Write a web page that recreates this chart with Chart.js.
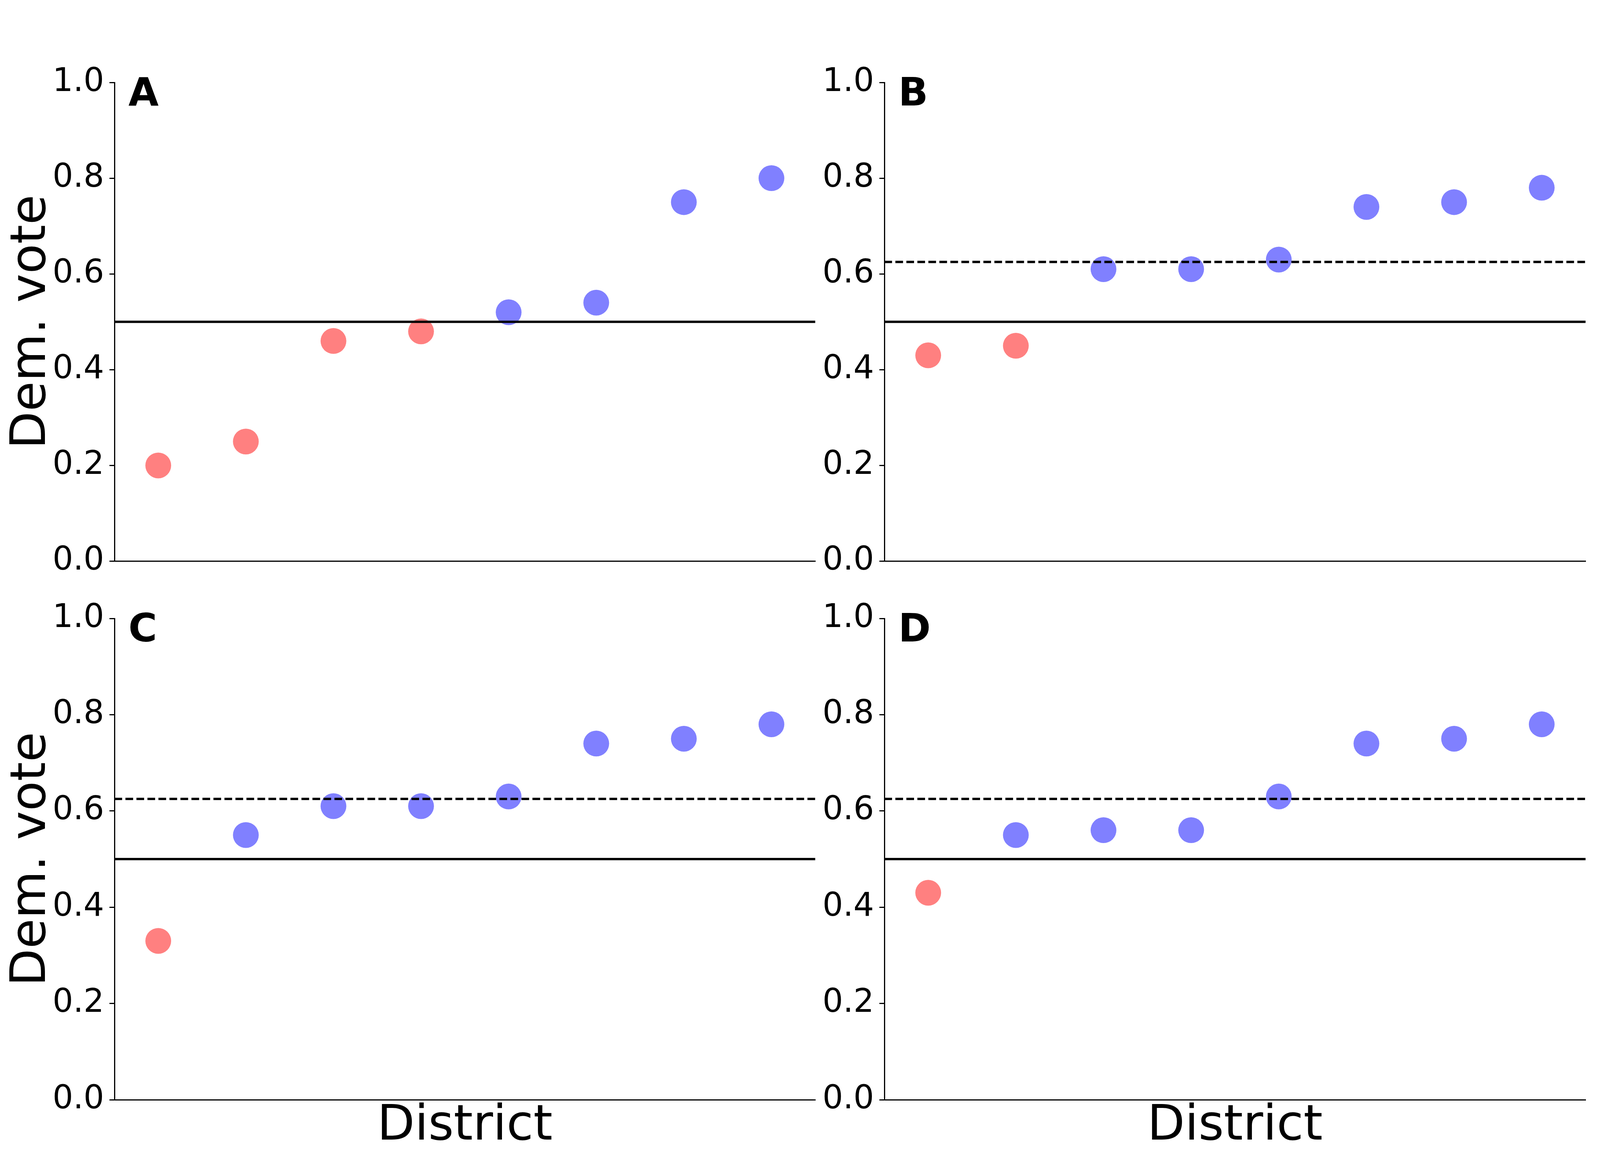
<!DOCTYPE html>
<html>
<head>
<meta charset="utf-8">
<script src="https://cdn.jsdelivr.net/npm/chart.js@4/dist/chart.umd.min.js"></script>
<style>
    html, body { margin: 0; padding: 0; background: #fff; overflow: hidden; }
    #wrap { position: relative; background: #fff; overflow: hidden; }
    canvas { position: absolute; }
</style>
</head>
<body>
<div id="wrap">
    <canvas id="chartA"></canvas>
    <canvas id="chartB"></canvas>
    <canvas id="chartC"></canvas>
    <canvas id="chartD"></canvas>
</div>
<script>
// districts (x index) and vote shares per plan
const districts = [0, 1, 2, 3, 4, 5, 6, 7];
const voteA = [0.20, 0.25, 0.46, 0.48, 0.52, 0.54, 0.75, 0.80];
const voteB = [0.43, 0.45, 0.61, 0.61, 0.63, 0.74, 0.75, 0.78];
const voteC = [0.33, 0.55, 0.61, 0.61, 0.63, 0.74, 0.75, 0.78];
const voteD = [0.43, 0.55, 0.56, 0.56, 0.63, 0.74, 0.75, 0.78];
const yTicks = [0.0, 0.2, 0.4, 0.6, 0.8, 1.0];
const xRange = [-0.5, 7.5];
const halfLine = 0.5;
const meanLine = 0.625;

const RED = '#ff8080';
const BLUE = '#8080ff';
const FONT = 'DejaVu Sans';

Chart.defaults.font.family = FONT;
Chart.defaults.color = '#000';

// layout is measured on a 4800x3000 figure and stretched to the window
let sx = 1, sy = 1;

// bold panel letter in the upper left corner
const letterPlugin = {
    id: 'panelLetter',
    afterDraw: (chart) => {
        const letter = chart.options.plugins.panelLetter.text;
        const {ctx, chartArea} = chart;
        ctx.save();
        ctx.font = `bold ${Math.round(100 * sy)}px "${FONT}"`;
        ctx.fillStyle = '#000';
        ctx.textBaseline = 'alphabetic';
        ctx.fillText(letter, chartArea.left + 42 * sx, chartArea.top + 59 * sy);
        ctx.restore();
    }
};

const hLine = (y, dashed) => ({
    type: 'line',
    data: xRange.map(x => ({x: x, y: y})),
    borderColor: '#000',
    borderWidth: 6 * sy,
    borderDash: dashed ? [23 * sx, 10 * sx] : [],
    pointRadius: 0,
    order: 0
});

// cv: canvas rect, pa: plot area, both in 4800x3000 figure units
const drawPanel = (id, cv, pa, votes, letter, opts) => {
    const x0 = Math.round(cv.l * sx), x1 = Math.round(cv.r * sx);
    const y0 = Math.round(cv.t * sy), y1 = Math.round(cv.b * sy);
    const w = x1 - x0, h = y1 - y0;
    const padLeft = Math.round(pa.l * sx) - x0;
    const padRight = x1 - Math.round(pa.r * sx);
    const padTop = Math.round(pa.t * sy) - y0;
    const padBottom = y1 - Math.round(pa.b * sy);

    const canvas = document.getElementById(id);
    canvas.width = w;
    canvas.height = h;
    canvas.style.left = x0 + 'px';
    canvas.style.top = y0 + 'px';
    canvas.style.width = w + 'px';
    canvas.style.height = h + 'px';

    const titleSize = Math.round(125 * sy);
    const titleHalf = titleSize * 1.2 / 2;

    const datasets = [hLine(halfLine, false)];
    if (opts.mean) datasets.push(hLine(meanLine, true));
    datasets.push({
        type: 'scatter',
        data: votes.map((v, i) => ({x: districts[i], y: v})),
        backgroundColor: votes.map(v => v < halfLine ? RED : BLUE),
        borderWidth: 0,
        pointRadius: 33 * sy,
        pointHoverRadius: 33 * sy,
        order: 1
    });

    new Chart(canvas.getContext('2d'), {
        type: 'scatter',
        data: {datasets: datasets},
        plugins: [letterPlugin],
        options: {
            responsive: false,
            animation: false,
            devicePixelRatio: 1,
            layout: {padding: {top: padTop, right: padRight, left: 0, bottom: 0}},
            plugins: {
                legend: {display: false},
                tooltip: {enabled: false},
                panelLetter: {text: letter}
            },
            scales: {
                x: {
                    type: 'linear',
                    min: xRange[0],
                    max: xRange[1],
                    grid: {display: false},
                    ticks: {display: false},
                    border: {display: true, color: '#000', width: 3},
                    title: {
                        display: opts.xTitle,
                        text: 'District',
                        font: {size: titleSize, family: FONT},
                        color: '#000',
                        padding: {top: 0, bottom: Math.max(0, (cv.b - 2885) * sy - titleHalf)}
                    },
                    afterFit: (s) => { s.height = padBottom; }
                },
                y: {
                    type: 'linear',
                    min: 0,
                    max: 1,
                    afterBuildTicks: (s) => { s.ticks = yTicks.map(v => ({value: v})); },
                    grid: {
                        drawOnChartArea: false,
                        drawTicks: true,
                        tickLength: 15 * sx,
                        tickWidth: 3,
                        tickColor: '#000'
                    },
                    border: {display: true, color: '#000', width: 3},
                    ticks: {
                        font: {size: Math.round(83 * sy), family: FONT},
                        color: '#000',
                        padding: 16 * sx,
                        callback: (v) => Number(v).toFixed(1)
                    },
                    title: {
                        display: opts.yTitle,
                        text: 'Dem. vote',
                        font: {size: titleSize, family: FONT},
                        color: '#000',
                        padding: {top: Math.max(0, 97 * sx - x0 - titleHalf), bottom: 0}
                    },
                    afterFit: (s) => { s.width = padLeft; }
                }
            }
        }
    });
};

window.onload = () => {
    const W = window.innerWidth, H = window.innerHeight;
    sx = W / 4800;
    sy = H / 3000;
    const wrap = document.getElementById('wrap');
    wrap.style.width = W + 'px';
    wrap.style.height = H + 'px';

    const left = {l: 0, r: 2500}, right = {l: 2440, r: 4800};
    const top = {t: 0, b: 1500}, bottom = {t: 1500, b: 3000};
    const plotL = {l: 343, r: 2446}, plotR = {l: 2653, r: 4757};
    const plotT = {t: 211, b: 1444}, plotB = {t: 1583, b: 2815};

    drawPanel('chartA', {...left, ...top}, {...plotL, ...plotT},
        voteA, 'A', {mean: false, xTitle: false, yTitle: true});
    drawPanel('chartB', {...right, ...top}, {...plotR, ...plotT},
        voteB, 'B', {mean: true, xTitle: false, yTitle: false});
    drawPanel('chartC', {...left, ...bottom}, {...plotL, ...plotB},
        voteC, 'C', {mean: true, xTitle: true, yTitle: true});
    drawPanel('chartD', {...right, ...bottom}, {...plotR, ...plotB},
        voteD, 'D', {mean: true, xTitle: true, yTitle: false});
};
</script>
</body>
</html>
